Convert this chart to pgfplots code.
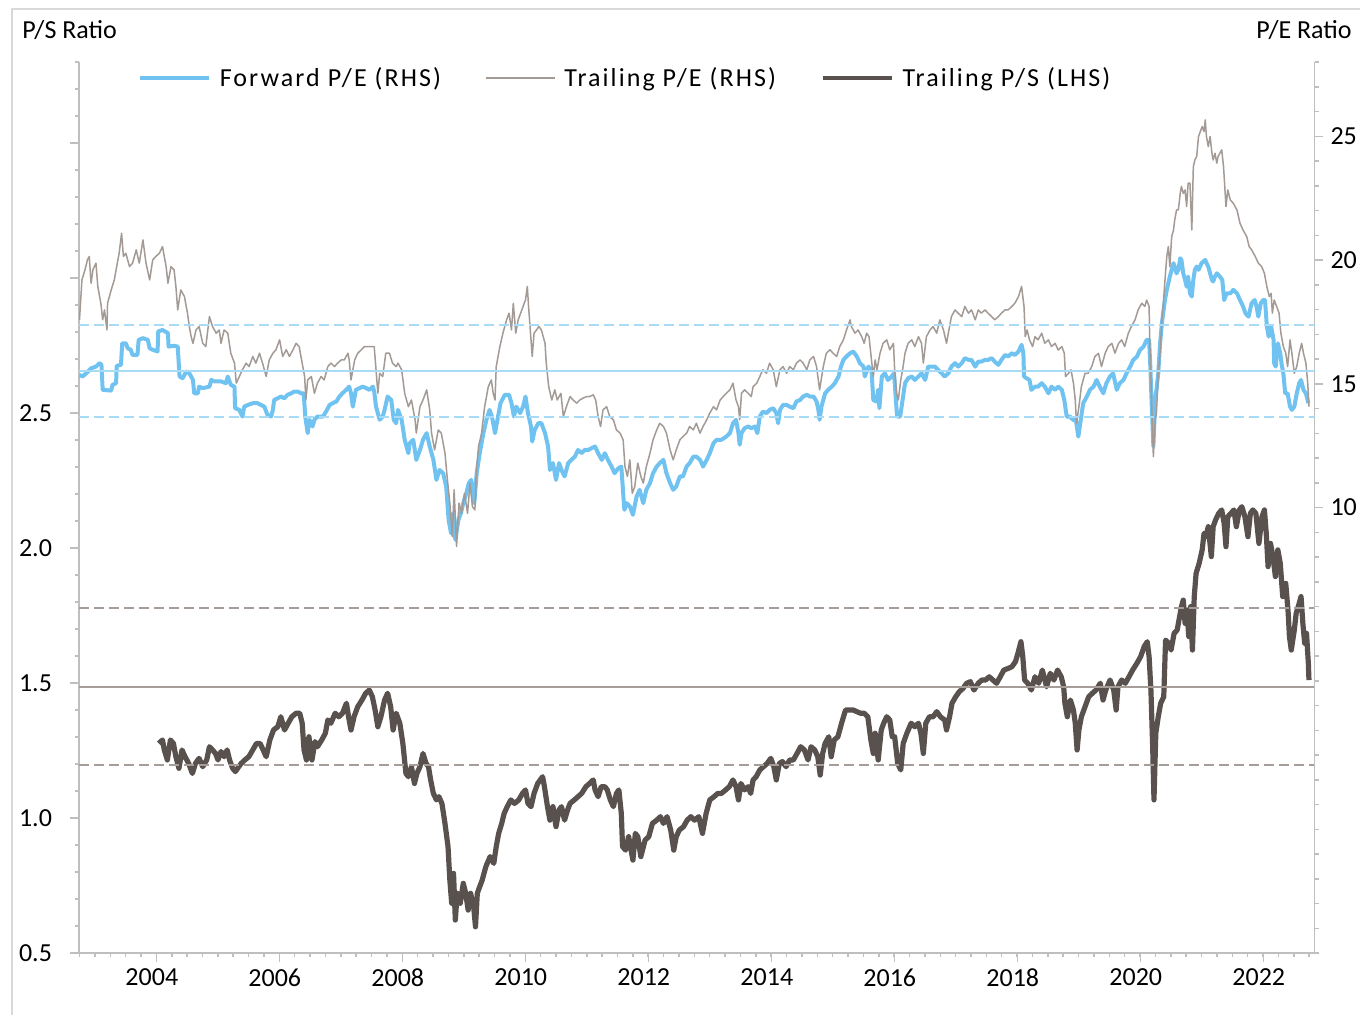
\documentclass[border=0pt]{standalone}
\usepackage{fontspec}
\setmainfont{Carlito}
\newfontfamily\legfont{Carlito}[LetterSpace=8]
\usepackage{pgfplots}
\usepackage{pgfplotstable}
\pgfplotsset{compat=1.18}

\definecolor{fwd}{HTML}{70C3F1}
\definecolor{fwdmean}{HTML}{A8DBF5}
\definecolor{trl}{HTML}{A39A95}
\definecolor{ps}{HTML}{59514E}
\definecolor{psmean}{HTML}{A69D99}
\definecolor{axisgrey}{HTML}{BFBFBF}
\definecolor{framegrey}{HTML}{D9D9D9}

\pgfplotstableread{
year pe
2002.80 17.59
2002.84 19.20
2002.89 19.61
2002.93 20.01
2002.96 20.15
2002.99 19.07
2003.02 19.61
2003.07 19.88
2003.10 18.94
2003.15 18.26
2003.18 17.59
2003.21 17.99
2003.25 17.18
2003.26 18.26
2003.32 18.80
2003.37 19.20
2003.42 19.88
2003.45 20.28
2003.49 21.09
2003.52 20.15
2003.56 20.28
2003.62 19.74
2003.67 19.88
2003.73 20.42
2003.78 19.88
2003.84 20.82
2003.89 19.88
2003.95 19.20
2004.00 20.01
2004.05 20.15
2004.11 20.28
2004.16 20.55
2004.22 19.74
2004.25 19.07
2004.30 19.74
2004.35 19.61
2004.38 18.94
2004.41 17.99
2004.46 18.80
2004.52 18.53
2004.57 17.86
2004.60 17.32
2004.63 16.91
2004.66 16.64
2004.71 17.18
2004.76 17.32
2004.82 16.64
2004.87 16.51
2004.93 17.72
2004.98 17.32
2005.04 17.05
2005.09 17.18
2005.12 16.64
2005.17 17.18
2005.23 17.05
2005.28 16.24
2005.34 15.84
2005.37 15.03
2005.42 15.30
2005.47 15.57
2005.53 15.84
2005.58 15.70
2005.64 16.11
2005.69 15.84
2005.75 16.24
2005.80 15.84
2005.86 15.30
2005.91 15.97
2005.97 16.24
2006.02 16.38
2006.08 16.78
2006.13 16.11
2006.19 16.38
2006.24 16.11
2006.30 16.38
2006.35 16.64
2006.40 16.51
2006.46 15.70
2006.49 15.30
2006.51 14.35
2006.54 15.16
2006.60 15.30
2006.65 14.62
2006.70 15.03
2006.76 15.30
2006.81 15.16
2006.87 15.70
2006.92 15.84
2006.98 15.70
2007.03 15.84
2007.09 15.97
2007.14 15.97
2007.20 16.24
2007.22 15.97
2007.25 15.16
2007.31 15.97
2007.36 16.24
2007.42 16.38
2007.47 16.51
2007.52 16.51
2007.58 16.51
2007.63 16.51
2007.66 15.57
2007.69 14.62
2007.72 15.43
2007.77 15.30
2007.82 16.24
2007.88 16.24
2007.93 15.84
2007.99 15.70
2008.02 15.84
2008.08 15.57
2008.13 14.62
2008.19 14.08
2008.24 14.35
2008.30 13.55
2008.32 13.01
2008.38 14.08
2008.43 14.35
2008.49 14.76
2008.54 13.95
2008.57 13.01
2008.62 12.33
2008.68 13.14
2008.73 13.01
2008.79 12.20
2008.83 11.12
2008.87 10.18
2008.91 8.83
2008.94 10.72
2008.98 8.43
2009.02 10.18
2009.06 9.77
2009.11 10.58
2009.16 9.77
2009.20 10.99
2009.24 10.04
2009.28 9.91
2009.31 11.66
2009.34 12.47
2009.39 13.01
2009.44 14.08
2009.50 14.89
2009.55 15.16
2009.58 14.62
2009.61 14.35
2009.63 15.70
2009.69 16.51
2009.74 17.05
2009.80 17.59
2009.84 17.86
2009.88 17.18
2009.91 18.26
2009.95 17.05
2009.99 17.59
2010.03 17.86
2010.07 18.13
2010.11 18.40
2010.14 18.94
2010.16 18.13
2010.20 16.78
2010.22 16.11
2010.25 17.05
2010.29 17.18
2010.33 17.32
2010.37 17.18
2010.43 16.64
2010.45 15.84
2010.49 14.89
2010.54 14.35
2010.59 14.76
2010.63 14.35
2010.69 14.62
2010.73 13.68
2010.78 14.08
2010.84 14.49
2010.89 14.35
2010.95 14.22
2011.00 14.35
2011.05 14.42
2011.11 14.49
2011.16 14.49
2011.22 14.56
2011.26 14.35
2011.30 13.68
2011.34 13.28
2011.38 13.95
2011.44 14.08
2011.49 13.68
2011.55 13.55
2011.60 13.14
2011.66 13.01
2011.71 12.74
2011.74 11.66
2011.78 11.26
2011.82 11.93
2011.86 10.58
2011.90 10.85
2011.95 11.80
2012.00 11.26
2012.04 10.99
2012.09 11.66
2012.15 12.20
2012.20 12.74
2012.26 13.14
2012.31 13.41
2012.37 13.28
2012.42 13.01
2012.48 12.33
2012.53 11.93
2012.58 12.33
2012.64 12.74
2012.69 12.87
2012.75 13.01
2012.80 13.28
2012.86 13.14
2012.91 13.41
2012.97 13.01
2013.02 13.28
2013.08 13.55
2013.13 13.82
2013.19 14.08
2013.24 13.95
2013.30 14.35
2013.35 14.49
2013.40 14.62
2013.46 14.76
2013.51 15.03
2013.56 14.35
2013.60 14.08
2013.62 13.55
2013.65 14.62
2013.70 14.76
2013.76 14.62
2013.81 14.49
2013.84 14.89
2013.90 15.03
2013.95 15.30
2014.00 15.57
2014.06 15.43
2014.11 15.84
2014.17 15.57
2014.22 14.89
2014.28 15.57
2014.33 15.70
2014.39 15.43
2014.44 15.70
2014.50 15.57
2014.55 15.84
2014.61 15.97
2014.66 15.84
2014.72 15.57
2014.77 15.97
2014.83 16.11
2014.88 15.70
2014.93 14.76
2014.99 15.70
2015.04 16.24
2015.10 16.38
2015.15 16.24
2015.21 16.11
2015.26 16.51
2015.32 16.78
2015.37 17.18
2015.43 17.59
2015.45 17.32
2015.51 17.05
2015.56 17.18
2015.62 16.91
2015.66 16.64
2015.70 17.05
2015.74 16.91
2015.78 15.97
2015.81 15.30
2015.84 15.97
2015.87 15.57
2015.92 16.24
2015.97 16.64
2016.03 16.78
2016.08 16.38
2016.14 16.64
2016.16 15.57
2016.19 14.62
2016.22 14.35
2016.26 15.16
2016.29 15.57
2016.33 16.24
2016.38 16.64
2016.44 16.78
2016.49 16.51
2016.55 16.91
2016.60 16.64
2016.63 15.84
2016.68 16.91
2016.74 17.18
2016.79 17.32
2016.85 17.05
2016.90 17.59
2016.96 17.18
2017.01 16.64
2017.04 17.05
2017.09 17.72
2017.15 17.99
2017.20 17.86
2017.26 17.72
2017.31 18.13
2017.37 17.86
2017.42 17.99
2017.48 17.59
2017.53 17.99
2017.58 17.86
2017.64 17.99
2017.69 17.86
2017.75 17.72
2017.80 17.59
2017.86 17.72
2017.91 17.86
2017.97 17.99
2018.02 17.99
2018.08 18.13
2018.13 18.26
2018.19 18.53
2018.24 18.94
2018.28 18.13
2018.30 16.91
2018.33 17.18
2018.37 16.78
2018.42 16.51
2018.46 16.91
2018.51 16.78
2018.57 17.05
2018.62 16.64
2018.68 16.78
2018.73 16.51
2018.79 16.64
2018.84 16.37
2018.90 16.51
2018.94 16.24
2018.96 15.30
2019.01 15.43
2019.05 15.57
2019.09 15.03
2019.12 14.35
2019.14 13.41
2019.18 14.08
2019.22 14.89
2019.28 15.43
2019.33 15.43
2019.39 15.70
2019.44 16.10
2019.50 16.24
2019.55 15.70
2019.61 16.24
2019.66 16.51
2019.72 16.64
2019.77 16.24
2019.83 16.64
2019.88 16.78
2019.93 16.51
2019.99 17.05
2020.04 17.32
2020.10 17.59
2020.15 17.99
2020.21 18.26
2020.26 18.13
2020.29 18.39
2020.33 18.13
2020.34 16.78
2020.37 14.35
2020.40 12.06
2020.43 13.54
2020.45 13.81
2020.48 15.43
2020.51 16.24
2020.54 17.59
2020.56 18.13
2020.59 19.20
2020.62 20.15
2020.645 20.55
2020.67 19.74
2020.70 20.95
2020.73 21.22
2020.75 21.63
2020.78 22.03
2020.81 22.03
2020.84 22.70
2020.86 22.98
2020.89 22.70
2020.92 22.84
2020.945 22.17
2020.97 23.11
2021.00 23.11
2021.03 21.22
2021.055 23.78
2021.08 24.05
2021.11 24.19
2021.14 25.00
2021.18 25.27
2021.20 25.40
2021.23 25.20
2021.25 25.67
2021.27 25.00
2021.30 24.59
2021.33 25.00
2021.36 24.32
2021.38 24.05
2021.41 24.32
2021.44 23.92
2021.46 24.19
2021.49 24.32
2021.52 24.46
2021.55 23.78
2021.57 22.98
2021.59 22.17
2021.62 22.84
2021.66 22.44
2021.71 22.30
2021.77 22.03
2021.82 21.49
2021.87 21.22
2021.93 20.95
2021.97 20.55
2022.01 20.42
2022.07 20.15
2022.12 19.88
2022.175 19.74
2022.22 19.47
2022.26 18.93
2022.30 18.53
2022.33 18.66
2022.35 17.86
2022.38 18.39
2022.42 18.13
2022.46 17.86
2022.49 17.05
2022.53 16.51
2022.57 16.24
2022.60 15.70
2022.64 16.78
2022.67 16.24
2022.71 15.43
2022.75 15.70
2022.79 16.24
2022.83 16.64
2022.86 16.24
2022.90 15.84
2022.93 15.03
2022.95 14.08
}\trlpe

\pgfplotstableread{
year pe
2002.80 15.36
2002.85 15.30
2002.91 15.43
2002.99 15.63
2003.07 15.70
2003.13 15.84
2003.16 15.77
2003.18 14.76
2003.32 14.73
2003.34 14.96
2003.40 15.03
2003.41 15.73
2003.48 15.77
2003.50 16.64
2003.56 16.64
2003.59 16.44
2003.64 16.38
2003.67 16.17
2003.75 16.17
2003.77 16.78
2003.84 16.85
2003.92 16.78
2003.95 16.44
2004.00 16.38
2004.08 16.31
2004.09 17.12
2004.16 17.18
2004.25 17.05
2004.26 16.51
2004.35 16.54
2004.41 16.51
2004.44 15.30
2004.49 15.23
2004.55 15.50
2004.60 15.43
2004.66 15.16
2004.68 14.62
2004.74 14.62
2004.76 14.89
2004.82 14.83
2004.93 14.89
2004.96 15.16
2005.01 15.10
2005.12 15.10
2005.20 15.03
2005.23 15.30
2005.28 14.96
2005.34 14.89
2005.35 14.02
2005.42 13.95
2005.47 13.68
2005.50 14.08
2005.56 14.15
2005.64 14.22
2005.72 14.22
2005.83 14.08
2005.88 13.75
2005.94 13.68
2005.97 13.95
2005.99 14.35
2006.05 14.42
2006.10 14.49
2006.16 14.42
2006.21 14.56
2006.27 14.62
2006.32 14.69
2006.38 14.69
2006.43 14.62
2006.475 14.62
2006.50 13.68
2006.54 13.01
2006.57 13.55
2006.62 13.28
2006.65 13.55
2006.70 13.68
2006.79 13.68
2006.84 13.88
2006.90 14.15
2006.95 14.22
2007.01 14.29
2007.06 14.49
2007.11 14.62
2007.17 14.76
2007.22 14.89
2007.25 14.62
2007.28 14.08
2007.33 14.76
2007.39 14.83
2007.44 14.89
2007.50 14.83
2007.55 14.76
2007.61 14.89
2007.63 14.69
2007.66 14.08
2007.72 13.55
2007.77 13.68
2007.80 13.95
2007.85 14.49
2007.91 14.35
2007.95 13.55
2007.99 13.41
2008.02 13.95
2008.08 13.55
2008.13 12.74
2008.19 12.20
2008.21 12.60
2008.27 12.74
2008.32 11.93
2008.38 12.33
2008.43 12.74
2008.49 13.01
2008.54 12.47
2008.60 11.93
2008.65 11.12
2008.70 11.52
2008.76 11.39
2008.81 10.85
2008.85 9.50
2008.89 8.96
2008.92 9.77
2008.96 8.70
2009.01 9.50
2009.05 9.77
2009.09 10.18
2009.14 10.58
2009.18 10.99
2009.22 11.12
2009.27 10.18
2009.31 11.39
2009.36 12.20
2009.42 13.01
2009.47 13.55
2009.52 13.95
2009.56 13.68
2009.61 13.01
2009.65 13.55
2009.70 14.22
2009.77 14.56
2009.84 14.56
2009.88 14.22
2009.92 13.68
2009.96 14.08
2010.02 13.82
2010.07 14.08
2010.11 14.49
2010.15 13.82
2010.20 13.28
2010.22 12.67
2010.26 13.14
2010.32 13.41
2010.37 13.41
2010.43 13.01
2010.48 12.47
2010.51 11.52
2010.56 11.80
2010.61 11.12
2010.66 11.80
2010.70 11.52
2010.75 11.26
2010.81 11.80
2010.86 11.93
2010.92 12.06
2010.97 12.33
2011.03 12.20
2011.08 12.33
2011.14 12.33
2011.19 12.40
2011.25 12.47
2011.30 12.20
2011.36 11.93
2011.41 12.20
2011.46 11.93
2011.52 11.66
2011.57 11.39
2011.63 11.59
2011.68 11.66
2011.73 9.91
2011.77 10.18
2011.82 10.04
2011.87 9.71
2011.93 10.45
2011.98 10.72
2012.04 10.18
2012.09 10.72
2012.15 10.99
2012.20 11.39
2012.26 11.66
2012.31 11.80
2012.37 11.93
2012.42 11.39
2012.48 10.99
2012.53 10.72
2012.58 10.85
2012.64 11.26
2012.69 11.26
2012.75 11.66
2012.80 11.80
2012.86 12.06
2012.91 12.06
2012.97 11.93
2013.02 11.66
2013.08 11.93
2013.13 12.20
2013.19 12.60
2013.24 12.74
2013.32 12.74
2013.40 12.87
2013.46 13.01
2013.51 13.41
2013.56 13.55
2013.60 13.01
2013.62 12.54
2013.65 13.01
2013.70 13.21
2013.76 13.28
2013.81 13.21
2013.87 13.28
2013.91 13.01
2013.95 13.68
2014.00 13.88
2014.06 13.82
2014.11 13.95
2014.17 14.02
2014.22 13.82
2014.25 13.41
2014.28 13.95
2014.33 14.15
2014.39 14.15
2014.44 14.08
2014.50 14.02
2014.55 14.29
2014.61 14.35
2014.66 14.49
2014.72 14.56
2014.77 14.49
2014.83 14.49
2014.88 14.29
2014.91 13.95
2014.93 13.55
2014.96 14.08
2015.02 14.62
2015.07 14.76
2015.13 14.89
2015.18 15.03
2015.24 15.30
2015.28 15.70
2015.32 15.97
2015.37 16.11
2015.43 16.24
2015.48 16.31
2015.54 16.11
2015.59 15.84
2015.65 15.70
2015.67 15.30
2015.73 15.70
2015.78 15.57
2015.81 14.35
2015.86 14.29
2015.89 14.76
2015.91 14.02
2015.95 15.30
2016.00 15.43
2016.05 15.16
2016.11 15.30
2016.15 15.43
2016.18 14.35
2016.20 13.68
2016.25 13.68
2016.29 14.35
2016.33 15.03
2016.38 15.23
2016.44 15.30
2016.49 15.16
2016.55 15.30
2016.60 15.43
2016.66 15.16
2016.71 15.70
2016.77 15.70
2016.82 15.70
2016.87 15.57
2016.93 15.43
2016.98 15.30
2017.04 15.43
2017.09 15.70
2017.15 15.84
2017.20 15.70
2017.26 15.84
2017.31 16.04
2017.37 15.97
2017.42 15.97
2017.48 15.70
2017.53 15.90
2017.58 15.90
2017.64 15.97
2017.69 15.97
2017.75 16.04
2017.80 15.90
2017.86 15.77
2017.91 15.97
2017.97 16.17
2018.02 16.11
2018.08 16.24
2018.13 16.17
2018.19 16.31
2018.24 16.58
2018.27 16.24
2018.28 15.30
2018.32 15.23
2018.37 15.16
2018.40 14.76
2018.46 14.89
2018.51 14.89
2018.57 15.03
2018.62 14.89
2018.68 14.62
2018.73 14.89
2018.79 14.76
2018.84 14.89
2018.90 14.76
2018.94 14.35
2018.98 13.68
2019.03 13.68
2019.09 13.54
2019.13 13.54
2019.17 12.87
2019.21 13.54
2019.25 14.22
2019.31 14.49
2019.36 14.76
2019.42 14.89
2019.47 15.16
2019.52 14.89
2019.58 14.62
2019.63 15.03
2019.69 15.30
2019.74 15.43
2019.80 14.76
2019.85 15.03
2019.91 15.16
2019.96 15.43
2020.02 15.70
2020.07 15.97
2020.13 16.10
2020.18 16.37
2020.24 16.51
2020.29 16.78
2020.33 16.78
2020.35 15.70
2020.37 14.35
2020.40 12.47
2020.43 14.35
2020.45 14.76
2020.48 15.43
2020.51 16.64
2020.54 17.45
2020.56 17.85
2020.59 18.39
2020.62 18.80
2020.645 19.07
2020.67 19.34
2020.70 19.61
2020.73 19.88
2020.75 19.74
2020.78 19.47
2020.81 19.61
2020.84 20.08
2020.86 20.01
2020.89 19.47
2020.92 19.20
2020.945 18.93
2020.97 19.34
2021.00 18.66
2021.03 18.53
2021.055 19.20
2021.08 19.61
2021.11 19.74
2021.14 19.61
2021.165 19.74
2021.19 19.88
2021.25 20.01
2021.27 19.88
2021.30 19.74
2021.33 19.47
2021.36 19.20
2021.38 19.14
2021.41 19.34
2021.44 19.47
2021.49 19.34
2021.53 19.20
2021.56 18.39
2021.60 18.66
2021.66 18.66
2021.71 18.80
2021.77 18.66
2021.82 18.39
2021.87 18.13
2021.91 17.85
2021.96 17.72
2022.01 18.26
2022.06 18.39
2022.09 18.13
2022.12 17.72
2022.16 18.26
2022.20 18.39
2022.23 18.39
2022.26 17.32
2022.29 16.91
2022.33 17.32
2022.37 16.78
2022.38 15.83
2022.405 15.70
2022.44 16.64
2022.48 16.24
2022.50 15.83
2022.53 15.43
2022.56 14.62
2022.60 14.62
2022.64 14.08
2022.67 13.95
2022.71 14.08
2022.75 14.62
2022.79 15.03
2022.82 15.16
2022.86 14.76
2022.90 14.62
2022.94 14.22
}\fwdpe

\pgfplotstableread{
year ps
2004.10 1.276
2004.16 1.289
2004.19 1.252
2004.24 1.215
2004.29 1.289
2004.34 1.276
2004.38 1.227
2004.43 1.184
2004.48 1.252
2004.53 1.227
2004.59 1.202
2004.65 1.165
2004.70 1.202
2004.76 1.221
2004.82 1.190
2004.885 1.215
2004.93 1.264
2004.98 1.252
2005.03 1.239
2005.07 1.215
2005.12 1.246
2005.17 1.227
2005.22 1.252
2005.26 1.215
2005.31 1.184
2005.355 1.172
2005.41 1.190
2005.45 1.202
2005.51 1.215
2005.575 1.227
2005.64 1.252
2005.70 1.276
2005.76 1.276
2005.81 1.252
2005.86 1.227
2005.92 1.289
2005.98 1.326
2006.05 1.338
2006.10 1.375
2006.16 1.326
2006.22 1.351
2006.28 1.375
2006.35 1.388
2006.41 1.388
2006.45 1.351
2006.48 1.252
2006.52 1.215
2006.56 1.301
2006.61 1.215
2006.66 1.283
2006.70 1.264
2006.77 1.289
2006.83 1.314
2006.87 1.363
2006.92 1.351
2006.99 1.388
2007.05 1.375
2007.11 1.388
2007.175 1.425
2007.21 1.375
2007.25 1.326
2007.30 1.375
2007.36 1.412
2007.43 1.437
2007.49 1.462
2007.55 1.474
2007.60 1.449
2007.645 1.400
2007.69 1.338
2007.74 1.375
2007.80 1.437
2007.85 1.462
2007.90 1.412
2007.94 1.326
2007.99 1.388
2008.05 1.351
2008.10 1.276
2008.15 1.165
2008.19 1.153
2008.24 1.190
2008.29 1.128
2008.33 1.165
2008.38 1.190
2008.43 1.239
2008.48 1.202
2008.52 1.190
2008.555 1.141
2008.60 1.091
2008.65 1.067
2008.69 1.079
2008.74 1.054
2008.79 0.980
2008.84 0.894
2008.87 0.770
2008.90 0.684
2008.93 0.795
2008.96 0.622
2008.99 0.721
2009.04 0.684
2009.09 0.758
2009.13 0.721
2009.17 0.659
2009.21 0.721
2009.26 0.672
2009.29 0.597
2009.32 0.721
2009.36 0.746
2009.40 0.770
2009.46 0.820
2009.53 0.857
2009.59 0.832
2009.63 0.894
2009.67 0.943
2009.72 0.980
2009.76 1.017
2009.81 1.042
2009.87 1.067
2009.93 1.054
2010.00 1.067
2010.06 1.091
2010.11 1.104
2010.15 1.054
2010.20 1.042
2010.25 1.091
2010.31 1.128
2010.39 1.153
2010.42 1.116
2010.47 1.042
2010.51 0.992
2010.56 1.042
2010.61 0.968
2010.66 1.030
2010.70 1.042
2010.75 0.992
2010.80 1.030
2010.84 1.054
2010.91 1.067
2010.97 1.079
2011.03 1.091
2011.10 1.116
2011.16 1.128
2011.22 1.141
2011.25 1.104
2011.30 1.079
2011.35 1.116
2011.41 1.116
2011.45 1.104
2011.50 1.067
2011.55 1.042
2011.60 1.091
2011.64 1.104
2011.68 1.017
2011.70 0.894
2011.75 0.881
2011.80 0.931
2011.87 0.844
2011.91 0.943
2011.95 0.931
2012.00 0.857
2012.07 0.918
2012.13 0.931
2012.19 0.980
2012.26 0.992
2012.32 1.005
2012.37 0.980
2012.43 1.005
2012.49 0.955
2012.54 0.881
2012.58 0.931
2012.63 0.955
2012.70 0.968
2012.76 0.992
2012.82 1.005
2012.88 0.992
2012.95 1.005
2013.01 0.943
2013.07 1.017
2013.13 1.067
2013.20 1.079
2013.26 1.091
2013.32 1.091
2013.39 1.104
2013.45 1.116
2013.51 1.141
2013.56 1.116
2013.60 1.067
2013.64 1.128
2013.70 1.104
2013.76 1.116
2013.80 1.091
2013.84 1.141
2013.89 1.153
2013.95 1.178
2014.01 1.190
2014.07 1.202
2014.13 1.221
2014.18 1.190
2014.22 1.141
2014.27 1.202
2014.32 1.209
2014.38 1.190
2014.44 1.215
2014.50 1.215
2014.56 1.239
2014.62 1.264
2014.68 1.252
2014.74 1.215
2014.79 1.264
2014.85 1.252
2014.90 1.227
2014.94 1.159
2014.98 1.239
2015.02 1.276
2015.08 1.301
2015.12 1.227
2015.17 1.289
2015.23 1.301
2015.29 1.351
2015.355 1.400
2015.42 1.400
2015.48 1.400
2015.54 1.394
2015.60 1.388
2015.66 1.388
2015.72 1.375
2015.77 1.289
2015.81 1.239
2015.84 1.314
2015.89 1.215
2015.94 1.326
2015.98 1.351
2016.03 1.375
2016.08 1.363
2016.12 1.301
2016.16 1.301
2016.21 1.202
2016.26 1.178
2016.30 1.276
2016.36 1.314
2016.43 1.351
2016.49 1.338
2016.55 1.351
2016.59 1.314
2016.63 1.239
2016.67 1.351
2016.73 1.375
2016.79 1.375
2016.85 1.394
2016.91 1.375
2016.98 1.363
2017.01 1.326
2017.06 1.375
2017.10 1.425
2017.16 1.449
2017.22 1.468
2017.28 1.480
2017.34 1.499
2017.40 1.505
2017.46 1.474
2017.53 1.499
2017.59 1.511
2017.65 1.511
2017.71 1.523
2017.77 1.511
2017.83 1.499
2017.89 1.523
2017.95 1.548
2018.02 1.554
2018.08 1.560
2018.14 1.579
2018.18 1.610
2018.23 1.653
2018.26 1.597
2018.29 1.511
2018.34 1.499
2018.40 1.474
2018.46 1.523
2018.52 1.499
2018.58 1.548
2018.65 1.486
2018.71 1.536
2018.77 1.511
2018.83 1.548
2018.89 1.523
2018.93 1.486
2018.95 1.425
2018.99 1.375
2019.04 1.437
2019.09 1.400
2019.12 1.351
2019.15 1.252
2019.18 1.326
2019.22 1.375
2019.28 1.412
2019.34 1.449
2019.40 1.462
2019.46 1.474
2019.53 1.499
2019.575 1.437
2019.62 1.474
2019.69 1.511
2019.75 1.474
2019.79 1.400
2019.82 1.486
2019.88 1.511
2019.94 1.499
2020.00 1.523
2020.06 1.548
2020.13 1.573
2020.19 1.597
2020.25 1.635
2020.30 1.653
2020.33 1.597
2020.36 1.474
2020.39 1.252
2020.41 1.067
2020.44 1.314
2020.48 1.375
2020.52 1.425
2020.57 1.449
2020.60 1.659
2020.65 1.647
2020.69 1.622
2020.74 1.684
2020.79 1.696
2020.83 1.746
2020.86 1.783
2020.89 1.807
2020.92 1.721
2020.95 1.770
2020.98 1.672
2021.01 1.783
2021.04 1.622
2021.07 1.820
2021.10 1.906
2021.15 1.943
2021.20 1.993
2021.23 2.054
2021.26 2.042
2021.30 2.079
2021.35 1.968
2021.38 2.079
2021.42 2.104
2021.47 2.128
2021.52 2.141
2021.56 2.091
2021.59 2.005
2021.62 2.116
2021.67 2.128
2021.72 2.141
2021.76 2.079
2021.81 2.141
2021.85 2.153
2021.90 2.116
2021.95 2.042
2021.99 2.128
2022.03 2.141
2022.08 2.128
2022.13 2.017
2022.18 2.116
2022.22 2.141
2022.25 2.054
2022.28 1.931
2022.32 2.017
2022.36 1.968
2022.40 1.894
2022.44 1.993
2022.48 1.943
2022.52 1.820
2022.57 1.869
2022.61 1.758
2022.63 1.672
2022.66 1.622
2022.71 1.696
2022.74 1.758
2022.79 1.795
2022.82 1.820
2022.85 1.721
2022.88 1.647
2022.91 1.684
2022.94 1.573
2022.95 1.511
}\psdata

\pgfplotsset{
  commonaxis/.style={
    at={(39.5pt,-476.5pt)}, anchor=south west,
    scale only axis, width=617.75pt, height=445.5pt,
    xmin=2002.792, xmax=2023.041,
    axis line style={axisgrey, line width=0.75pt},
    tick style={axisgrey, line width=0.75pt},
    tick align=outside,
    major tick length=4.5pt, minor tick length=2pt,
    tick label style={font=\fontsize{13}{15}\selectfont, text=black},
  }
}

\begin{document}
\begin{tikzpicture}
\path[use as bounding box] (0,0) rectangle (680pt,-507.5pt);
\draw[framegrey, line width=0.75pt] (680pt,-4.5pt) -- (6pt,-4.5pt) -- (6pt,-507.5pt);
\node[anchor=base west, inner sep=0pt, font=\fontsize{13}{15}\selectfont] at (11pt,-19.2pt) {P/S Ratio};
\node[anchor=base east, inner sep=0pt, font=\fontsize{13}{15}\selectfont] at (676pt,-19.2pt) {P/E Ratio};

\begin{axis}[
  commonaxis,
  ymin=0.5, ymax=3.8,
  axis x line*=bottom, axis y line*=left,
  xtick={2004.061,2006.076,2008.092,2010.108,2012.124,2014.140,2016.155,2018.171,2020.187,2022.203},
  xticklabels={2004,2006,2008,2010,2012,2014,2016,2018,2020,2022},
  minor xtick={2002.801,2003.053,...,2023.05},
  xticklabel style={xshift=-2.3pt},
  ytick={0.5,1,1.5,2,2.5,3,3.5},
  yticklabels={0.5,1.0,1.5,2.0,2.5,{},{}},
  minor ytick={0.6,0.7,...,3.85},
  yticklabel style={xshift=-5.5pt},
]
\addplot[ps, line width=2.6pt, line join=round] table[x=year, y=ps] {\psdata};
\addplot[psmean, line width=1pt] coordinates {(2002.792,1.484) (2023.041,1.484)};
\addplot[psmean, line width=1pt, dash pattern=on 5pt off 2.5pt] coordinates {(2002.792,1.776) (2023.041,1.776)};
\addplot[psmean, line width=1pt, dash pattern=on 5pt off 2.5pt] coordinates {(2002.792,1.196) (2023.041,1.196)};
\end{axis}

\begin{axis}[
  commonaxis,
  ymin=-8, ymax=28.01,
  axis x line=none, axis y line*=right,
  ytick={10,15,20,25},
  yticklabels={10,15,20,25},
  minor ytick={-8,-7,...,28},
  legend columns=-1,
  legend style={at={(0.04775,0.982)}, anchor=west, draw=none, fill=none, inner sep=0pt,
    font=\legfont\fontsize{13}{15}\selectfont,
    /tikz/every odd column/.append style={column sep=2.2pt},
    /tikz/every even column/.append style={column sep=20.2pt}},
  legend image code/.code={\draw[#1] (0pt,0pt) -- (34.5pt,0pt);},
]
\addplot[fwd, line width=2pt, line join=round] table[x=year, y=pe] {\fwdpe};
\addlegendentry{Forward P/E (RHS)}
\addplot[trl, line width=0.75pt, line join=round] table[x=year, y=pe] {\trlpe};
\addlegendentry{Trailing P/E (RHS)}
\addplot[fwdmean, line width=1pt, forget plot] coordinates {(2002.792,15.51) (2023.041,15.51)};
\addplot[fwdmean, line width=1pt, dash pattern=on 5pt off 2.5pt, forget plot] coordinates {(2002.792,17.38) (2023.041,17.38)};
\addplot[fwdmean, line width=1pt, dash pattern=on 5pt off 2.5pt, forget plot] coordinates {(2002.792,13.65) (2023.041,13.65)};
\addlegendimage{ps, line width=2.4pt}
\addlegendentry{Trailing P/S (LHS)}
\end{axis}
\end{tikzpicture}
\end{document}
